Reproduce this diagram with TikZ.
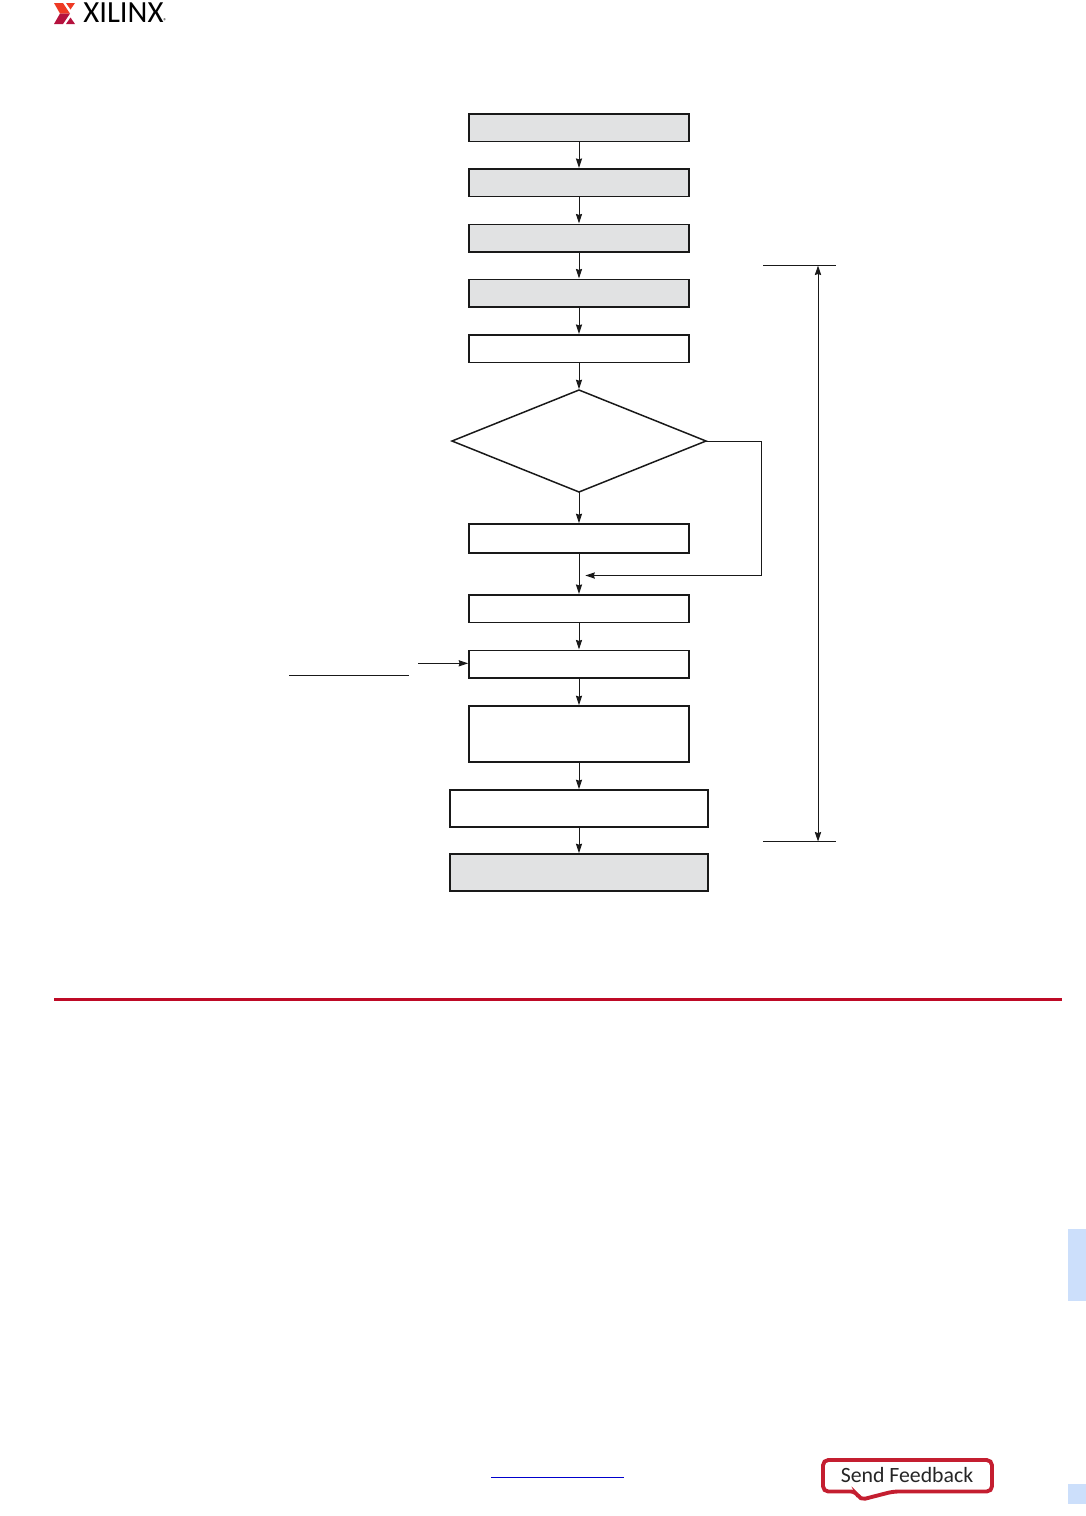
\documentclass[tikz,border=0pt]{standalone}
\usepackage{fontspec}
\setmainfont{Carlito}
\usetikzlibrary{arrows.meta,shapes.geometric}
\definecolor{stepgray}{HTML}{E1E2E3}
\definecolor{logored}{HTML}{EE3A24}
\definecolor{logodark}{HTML}{B5123E}
\definecolor{rulered}{HTML}{BE0A26}
\definecolor{feedbackred}{HTML}{C41E30}
\definecolor{tabblue}{HTML}{CCDFFB}
\definecolor{linkblue}{HTML}{0000CC}
\tikzset{
 stepbox/.style={draw=black!90,line width=0.85pt,minimum width=4.4cm,minimum height=0.55cm,inner sep=0pt,outer sep=0pt},
 widebox/.style={stepbox,minimum width=5.16cm,minimum height=0.74cm},
 shaded/.style={fill=stepgray},
 flow/.style={-{Stealth[length=0.19cm,width=0.125cm,inset=0.02cm]},line width=0.55pt,black!90,shorten >=0.5pt},
 rule/.style={line width=0.6pt,black!90}
}
\begin{document}
\begin{tikzpicture}[x=0.02cm,y=-0.02cm]
 \useasboundingbox (0,0) rectangle (1086,1516);
 % logo and page furniture
 \fill[logored] (54,3) -- (63,3) -- (70,13.5) -- (60,13.5) -- cycle;
 \fill[logored] (66,3) -- (75,3) -- (70.5,9.5) -- cycle;
 \fill[logodark] (60,13.5) -- (70,13.5) -- (63,24) -- (54,24) -- cycle;
 \fill[logodark] (66,24) -- (75,24) -- (70.5,17.5) -- cycle;
 \node[anchor=west,inner sep=0pt,font=\fontsize{17.5}{18}\selectfont] (xilinx) at (83,13) {XILINX};
 \node[anchor=west,inner sep=0pt,font=\fontsize{4}{4}\selectfont] (regmark) at (163,21) {\textregistered};
 \fill[rulered] (54,997.5) rectangle (1062,1000.5);
 \fill[tabblue] (1068,1229) rectangle (1086,1301);
 \fill[tabblue] (1068,1484) rectangle (1086,1504);
 \draw[linkblue,line width=0.5pt] (491,1477) -- (624,1477);
 \draw[feedbackred,line width=2.2pt,fill=white,rounded corners=3pt] (823,1460) -- (992,1460) -- (992,1491.5) -- (893,1491.5) -- (860,1500) -- (856,1491.5) -- (823,1491.5) -- cycle;
 \node[inner sep=0pt,font=\fontsize{12.4}{14}\selectfont,text=black!85] (feedback) at (907,1475) {Send Feedback};
 % flow
 \node[stepbox,shaded] (boxa) at (579,127.5) {};
 \node[stepbox,shaded] (boxb) at (579,182.5) {};
 \node[stepbox,shaded] (boxc) at (579,238) {};
 \node[stepbox,shaded] (boxd) at (579,293) {};
 \node[stepbox] (boxe) at (579,348.5) {};
 \node[diamond,draw=black!90,line width=0.85pt,minimum width=5.08cm,minimum height=2.04cm,inner sep=0pt,outer sep=0pt] (choice) at (579,441) {};
 \node[stepbox,minimum height=0.58cm] (boxf) at (579,538.5) {};
 \node[stepbox] (boxg) at (579,608.5) {};
 \node[stepbox] (boxh) at (579,664) {};
 \node[stepbox,minimum height=1.12cm] (boxi) at (579,734) {};
 \node[widebox] (boxj) at (579,808.5) {};
 \node[widebox,shaded] (boxk) at (579,872.5) {};
 \draw[flow] (boxa) -- (boxb);
 \draw[flow] (boxb) -- (boxc);
 \draw[flow] (boxc) -- (boxd);
 \draw[flow] (boxd) -- (boxe);
 \draw[flow] (boxe) -- (choice);
 \draw[flow] (choice) -- (boxf);
 \draw[flow] (boxf) -- (boxg);
 \draw[flow] (boxg) -- (boxh);
 \draw[flow] (boxh) -- (boxi);
 \draw[flow] (boxi) -- (boxj);
 \draw[flow] (boxj) -- (boxk);
 \coordinate (merge) at (579,575.5);
 \coordinate (bypass) at (761,575.5);
 \draw[flow,shorten >=3.6pt] (choice.east) -| (bypass) -- (merge);
 % input on the left
 \coordinate (inputstart) at (418,663.3);
 \draw[flow] (inputstart) -- (boxh.west |- inputstart);
 \coordinate (notea) at (289,675.5);
 \coordinate (noteb) at (409,675.5);
 \draw[rule] (notea) -- (noteb);
 % span on the right
 \coordinate (spantopa) at (763,265.5);
 \coordinate (spantopb) at (836,265.5);
 \coordinate (spanbota) at (763,841.5);
 \coordinate (spanbotb) at (836,841.5);
 \coordinate (spantop) at (818,265.5);
 \coordinate (spanbot) at (818,841.5);
 \draw[rule] (spantopa) -- (spantopb);
 \draw[rule] (spanbota) -- (spanbotb);
 \draw[{Stealth[length=0.19cm,width=0.125cm,inset=0.02cm]}-{Stealth[length=0.19cm,width=0.125cm,inset=0.02cm]},line width=0.55pt,black!90] (spantop) -- (spanbot);
\end{tikzpicture}
\end{document}
